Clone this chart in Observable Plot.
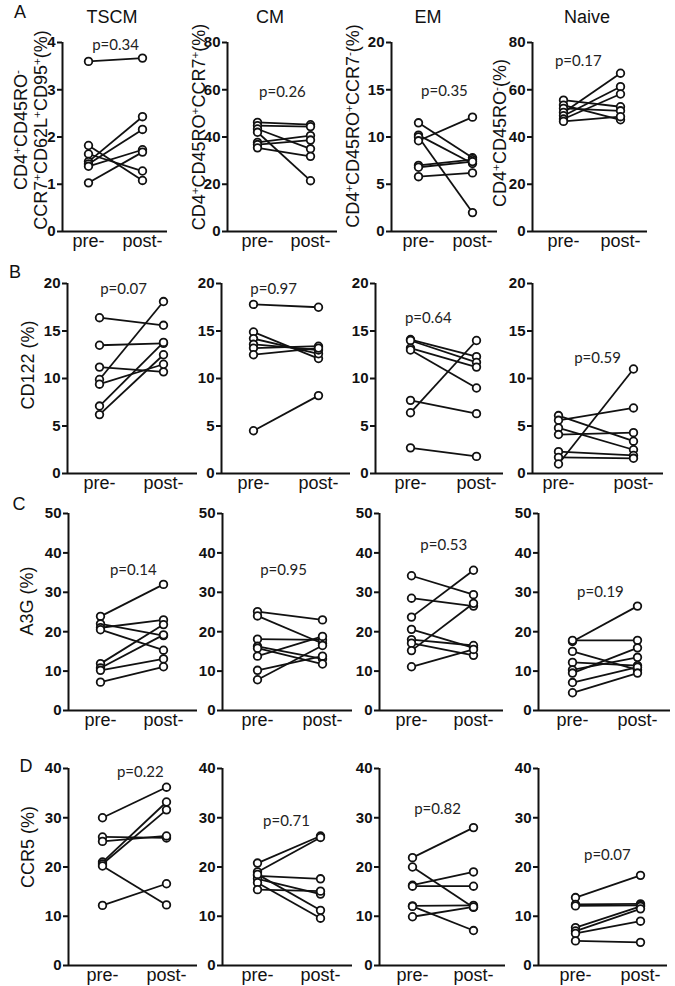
<!DOCTYPE html>
<html><head><meta charset="utf-8">
<script src="https://cdn.jsdelivr.net/npm/d3@7"></script>
<script src="https://cdn.jsdelivr.net/npm/@observablehq/plot@0.6"></script>
<style>
body{margin:0;background:#fff;}
#fig{position:relative;width:675px;height:986px;background:#fff;font-family:"Liberation Sans",Arial,sans-serif;color:#111;overflow:hidden}
.lbl{position:absolute;white-space:nowrap;transform:translate(-50%,-50%) rotate(-90deg);font-size:18px;line-height:20px;text-align:center}
.lbl sup{font-size:65%;line-height:0;vertical-align:0.55em}
.ctr{position:absolute;transform:translate(-50%,-50%);white-space:nowrap}
</style></head><body><div id="fig"></div>
<script>
// ---------- data ----------
const panelTitles = ["TSCM", "CM", "EM", "Naive"];
const rowLetters = ["A", "B", "C", "D"];
const xLabels = ["pre-", "post-"];

const ticksA_TSCM = [0, 1, 2, 3, 4];
const ticksA_CM = [0, 20, 40, 60, 80];
const ticksA_EM = [0, 5, 10, 15, 20];
const ticksA_Naive = [0, 20, 40, 60, 80];
const ticksB = [0, 5, 10, 15, 20];
const ticksC = [0, 10, 20, 30, 40, 50];
const ticksD = [0, 10, 20, 30, 40];

const pA = ["p=0.34", "p=0.26", "p=0.35", "p=0.17"];
const pB = ["p=0.07", "p=0.97", "p=0.64", "p=0.59"];
const pC = ["p=0.14", "p=0.95", "p=0.53", "p=0.19"];
const pD = ["p=0.22", "p=0.71", "p=0.82", "p=0.07"];

const A_TSCM_pre  = [3.60, 1.82, 1.64, 1.48, 1.43, 1.38, 1.03];
const A_TSCM_post = [3.67, 1.08, 1.28, 2.43, 2.16, 1.73, 1.68];
const A_CM_pre    = [46.2, 44.8, 43.4, 42.0, 37.7, 36.8, 35.4];
const A_CM_post   = [45.2, 44.4, 35.0, 21.5, 40.6, 38.7, 31.8];
const A_EM_pre    = [11.5, 10.2, 10.0, 9.6, 7.0, 6.8, 5.8];
const A_EM_post   = [7.8, 7.2, 2.0, 12.1, 7.6, 7.4, 6.2];
const A_Naive_pre  = [55.6, 53.5, 52.1, 50.4, 49.0, 47.6, 46.6];
const A_Naive_post = [52.8, 47.3, 51.1, 67.0, 61.3, 58.2, 48.6];

const B_TSCM_pre  = [16.4, 13.5, 11.2, 9.9, 9.4, 7.1, 6.2];
const B_TSCM_post = [15.6, 13.7, 10.7, 18.1, 11.5, 13.8, 12.5];
const B_CM_pre    = [17.8, 14.9, 14.2, 13.6, 13.2, 12.5, 4.5];
const B_CM_post   = [17.5, 12.1, 12.6, 13.0, 13.4, 13.2, 8.2];
const B_EM_pre    = [14.1, 14.0, 13.2, 13.0, 7.7, 6.4, 2.7];
const B_EM_post   = [12.3, 11.7, 11.2, 9.0, 6.3, 14.0, 1.8];
const B_Naive_pre  = [6.1, 5.6, 4.8, 4.1, 2.3, 1.7, 1.0];
const B_Naive_post = [3.4, 6.9, 2.5, 4.3, 1.9, 1.6, 11.0];

const C_TSCM_pre  = [23.9, 22.0, 21.0, 20.5, 11.9, 10.8, 10.2, 7.2];
const C_TSCM_post = [32.0, 19.0, 23.0, 15.3, 21.8, 19.2, 13.1, 11.1];
const C_CM_pre    = [25.1, 24.0, 18.1, 16.3, 15.8, 13.8, 10.2, 7.8];
const C_CM_post   = [23.0, 17.0, 17.9, 13.1, 11.8, 18.8, 13.8, 16.5];
const C_EM_pre    = [34.2, 28.5, 23.7, 20.6, 18.0, 17.1, 15.2, 11.1];
const C_EM_post   = [29.4, 26.5, 35.6, 15.9, 16.5, 14.0, 27.2, 15.5];
const C_Naive_pre  = [17.5, 17.8, 15.0, 12.2, 10.3, 9.5, 7.1, 4.5];
const C_Naive_post = [26.5, 17.8, 10.3, 11.4, 13.5, 15.9, 11.0, 9.5];

const D_TSCM_pre  = [30.0, 26.1, 25.2, 21.0, 20.6, 20.2, 12.2];
const D_TSCM_post = [36.2, 25.9, 26.3, 33.2, 31.6, 12.3, 16.6];
const D_CM_pre    = [20.8, 19.0, 18.2, 17.6, 18.5, 16.8, 15.4];
const D_CM_post   = [26.3, 26.0, 17.6, 14.5, 11.2, 9.6, 15.1];
const D_EM_pre    = [21.9, 20.0, 16.3, 16.1, 12.1, 12.0, 9.9];
const D_EM_post   = [28.0, 11.8, 19.0, 16.1, 12.2, 7.1, 11.9];
const D_Naive_pre  = [13.8, 12.4, 12.1, 7.7, 7.0, 6.5, 5.0];
const D_Naive_post = [18.3, 12.5, 12.2, 12.0, 11.5, 9.0, 4.7];

// ---------- layout (pixels) ----------
const rowsLayout = [
  {top: 42,  bottom: 231, axisLeft: [62, 227, 391, 532], pre: [88, 257, 418, 563], post: [142, 310, 472, 620], xEnd: [167, 337, 497, 647]},
  {top: 283, bottom: 473, axisLeft: [67, 221, 375, 532], pre: [99, 253, 410, 558], post: [163, 318, 476, 633], xEnd: [197, 350, 503, 663]},
  {top: 513, bottom: 710, axisLeft: [68, 222, 379, 538], pre: [100, 257, 411, 572], post: [163, 322, 473, 637], xEnd: [197, 352, 503, 670]},
  {top: 768, bottom: 965, axisLeft: [68, 222, 379, 538], pre: [102, 257, 412, 575], post: [166, 320, 473, 640], xEnd: [197, 352, 505, 667]}
];
// p-label placement: [fraction between pre and post, y value]
const pPlace = [
  [[0.50, 3.94], [0.47, 59], [0.48, 14.8], [0.26, 72]],
  [[0.375, 19.4], [0.31, 19.4], [0.27, 16.4], [0.52, 12.1]],
  [[0.52, 35.5], [0.40, 35.5], [0.52, 41.9], [0.43, 30]],
  [[0.59, 39.2], [0.46, 29.3], [0.41, 31.7], [0.49, 22.5]]
];

const panels = [
  [[A_TSCM_pre, A_TSCM_post, ticksA_TSCM], [A_CM_pre, A_CM_post, ticksA_CM], [A_EM_pre, A_EM_post, ticksA_EM], [A_Naive_pre, A_Naive_post, ticksA_Naive]],
  [[B_TSCM_pre, B_TSCM_post, ticksB], [B_CM_pre, B_CM_post, ticksB], [B_EM_pre, B_EM_post, ticksB], [B_Naive_pre, B_Naive_post, ticksB]],
  [[C_TSCM_pre, C_TSCM_post, ticksC], [C_CM_pre, C_CM_post, ticksC], [C_EM_pre, C_EM_post, ticksC], [C_Naive_pre, C_Naive_post, ticksC]],
  [[D_TSCM_pre, D_TSCM_post, ticksD], [D_CM_pre, D_CM_post, ticksD], [D_EM_pre, D_EM_post, ticksD], [D_Naive_pre, D_Naive_post, ticksD]]
];
const pLabels = [pA, pB, pC, pD];

const fig = document.getElementById("fig");
const INK = "#111";

function drawPanel(r, c) {
  const L = rowsLayout[r];
  const [pre, post, yTicks] = panels[r][c];
  const mL = 60, mR = 6, mT = 12, mB = 30;
  const ax = L.axisLeft[c], xe = L.xEnd[c], px0 = L.pre[c], px1 = L.post[c];
  const span = px1 - px0;
  const d0 = (ax - px0) / span, d1 = 1 + (xe - px1) / span;
  const width = mL + (xe - ax) + mR;
  const height = mT + (L.bottom - L.top) + mB;
  const pairs = pre.map((v, i) => ({pre: v, post: post[i]}));
  const pts = pairs.flatMap(d => [{k: 0, v: d.pre}, {k: 1, v: d.post}]);
  const ymax = yTicks[yTicks.length - 1];
  const pp = pPlace[r][c];
  const svg = Plot.plot({
    width, height, marginLeft: mL, marginRight: mR, marginTop: mT, marginBottom: mB,
    style: {background: "transparent", overflow: "visible", maxWidth: "none", fontFamily: '"Liberation Sans", Arial, sans-serif', fontSize: "15px", color: INK},
    x: {type: "linear", domain: [d0, d1], label: null},
    y: {domain: [0, ymax], label: null},
    marks: [
      Plot.link(pairs, {x1: () => 0, x2: () => 1, y1: "pre", y2: "post", stroke: INK, strokeWidth: 1.8}),
      Plot.dot(pts, {x: "k", y: "v", r: 3.8, stroke: INK, strokeWidth: 1.8, fill: "white"}),
      Plot.ruleY([0], {stroke: INK, strokeWidth: 2}),
      Plot.ruleX([d0], {stroke: INK, strokeWidth: 2}),
      Plot.axisY({ticks: yTicks, tickFormat: d => String(d), tickSize: 5, tickPadding: 2, fontWeight: "bold", fontSize: 15, strokeWidth: 2, stroke: INK}),
      Plot.axisX({ticks: [0, 1], tickFormat: i => xLabels[i], tickSize: 0, tickPadding: 3, fontSize: 18}),
      Plot.text([pLabels[r][c]], {x: () => pp[0], y: () => pp[1], text: d => d, fontFamily: "Lato, 'Open Sans', sans-serif", fontSize: 15, fill: "#222"})
    ]
  });
  svg.style.position = "absolute";
  svg.style.left = (ax - mL) + "px";
  svg.style.top = (L.top - mT) + "px";
  fig.appendChild(svg);
}

for (let r = 0; r < 4; r++) for (let c = 0; c < 4; c++) drawPanel(r, c);

function addDiv(cls, html, x, y, size) {
  const d = document.createElement("div");
  d.className = cls;
  d.innerHTML = html;
  d.style.left = x + "px";
  d.style.top = y + "px";
  if (size) d.style.fontSize = size + "px";
  fig.appendChild(d);
}

// column titles
const titleX = [112, 270, 428, 587];
panelTitles.forEach((t, i) => addDiv("ctr", t, titleX[i], 17, 18));
// row letters
const letterPos = [[20, 12], [15, 272], [19, 504], [26, 766]];
rowLetters.forEach((t, i) => addDiv("ctr", t, letterPos[i][0], letterPos[i][1], 18));

// y labels
const S = s => "<sup>" + s + "</sup>";
addDiv("lbl", "CD4" + S("+") + "CD45RO" + S("-") + "<br>CCR7" + S("+") + "CD62L" + S("+") + "CD95" + S("+") + "(%)", 31, 130);
addDiv("lbl", "CD4" + S("+") + "CD45RO" + S("+") + "CCR7" + S("+") + "(%)", 199, 127);
addDiv("lbl", "CD4" + S("+") + "CD45RO" + S("+") + "CCR7" + S("-") + "(%)", 353, 126);
addDiv("lbl", "CD4" + S("+") + "CD45RO" + S("-") + "(%)", 500, 133);
addDiv("lbl", "CD122 (%)", 28, 365);
addDiv("lbl", "A3G (%)", 27, 601);
addDiv("lbl", "CCR5 (%)", 28, 847);
</script></body></html>
